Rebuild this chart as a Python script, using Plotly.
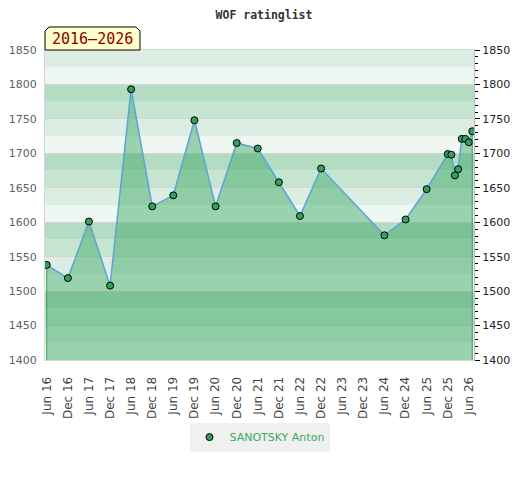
import pandas as pd
import plotly.graph_objects as go

# rating list dates and ratings
dates = ["2016-06-01", "2016-12-01", "2017-06-01", "2017-12-01", "2018-06-01",
         "2018-12-01", "2019-06-01", "2019-12-01", "2020-06-01", "2020-12-01",
         "2021-06-01", "2021-12-01", "2022-06-01", "2022-12-01", "2024-06-01",
         "2024-12-01", "2025-06-01", "2025-12-01", "2026-01-01", "2026-02-01",
         "2026-03-01", "2026-04-01", "2026-05-01", "2026-06-01", "2026-07-01"]
ratings = [1538, 1519, 1601, 1508, 1793, 1623, 1639, 1748, 1623, 1715,
           1707, 1658, 1609, 1678, 1581, 1604, 1648, 1699, 1698, 1668,
           1677, 1721, 1721, 1716, 1732]
player = "SANOTSKY Anton"
period = "2016\u20132026"
y_min, y_max = 1400, 1850

x = pd.to_datetime(dates)
pad = pd.Timedelta(days=15)

band_colors = {25: "#dceee3", 0: "#eef7f1", 75: "#b3dcc2", 50: "#c6e5d1"}

fig = go.Figure()

# area under the rating line
fig.add_trace(go.Scatter(
    x = x, y = ratings,
    mode = "lines",
    line = dict(color = "#5ba3d9", width = 1.5),
    fill = "tozeroy",
    fillcolor = "rgba(60,168,99,0.47)",
    showlegend = False,
    hoverinfo = "skip"
))

# edges of the area
fig.add_trace(go.Scatter(
    x = [x[0], x[0], None, x[-1], x[-1]],
    y = [ratings[0], y_min, None, ratings[-1], y_min],
    mode = "lines",
    line = dict(color = "#3d9b5d", width = 1),
    showlegend = False,
    hoverinfo = "skip"
))

fig.add_trace(go.Scatter(
    x = x, y = ratings,
    mode = "markers",
    name = player,
    marker = dict(color = "#35a05e", size = 7, line = dict(color = "black", width = 1))
))

# dummy trace for the right axis
fig.add_trace(go.Scatter(
    x = [x[0]], y = [ratings[0]], yaxis = "y2",
    mode = "markers", marker = dict(opacity = 0),
    showlegend = False, hoverinfo = "skip"
))

shapes = []
for lo in range(y_min, y_max, 25):
    shapes.append(dict(
        type = "rect", xref = "paper", yref = "y",
        x0 = 0, x1 = 1, y0 = lo, y1 = lo + 25,
        fillcolor = band_colors[lo % 100], line = dict(width = 0),
        layer = "below"
    ))

# label box with cut top corners
shapes.append(dict(
    type = "path", xref = "paper", yref = "paper",
    path = "M 0,1 L 0,1.0613 L 0.0093,1.0742 L 0.2121,1.0742 L 0.2214,1.0613 L 0.2214,1 Z",
    fillcolor = "#ffffcc", line = dict(color = "black", width = 1),
    layer = "above"
))

# page body adds an 8px offset, so the figure is 8px smaller
layout = go.Layout(
    width = 512, height = 472,
    margin = dict(l = 37, r = 46, t = 42, b = 120),
    paper_bgcolor = "white",
    plot_bgcolor = "white",
    title = dict(
        text = "<b>WOF ratinglist</b>",
        x = 0.5, xanchor = "center", y = 1 - 3 / 472, yanchor = "top",
        font = dict(family = "DejaVu Sans Mono", size = 11.5, color = "#333333")
    ),
    xaxis = dict(
        type = "date", automargin = False,
        range = [x[0] - pad, x[-1] + pad],
        tick0 = "2016-06-01", dtick = "M6", tickformat = "%b %y",
        tickangle = -90,
        ticks = "outside", ticklen = 11, tickcolor = "rgba(0,0,0,0)",
        tickfont = dict(family = "DejaVu Sans", size = 12, color = "#444444"),
        showgrid = False, zeroline = False,
        showline = True, linecolor = "#d6d6d6", linewidth = 1, mirror = True
    ),
    yaxis = dict(
        range = [y_min, y_max], dtick = 50, automargin = False,
        ticks = "outside", ticklen = 5, tickcolor = "rgba(0,0,0,0)",
        tickfont = dict(family = "DejaVu Sans", size = 11, color = "#606060"),
        showgrid = True, gridcolor = "#d4d4d4", gridwidth = 1,
        zeroline = False,
        showline = True, linecolor = "#d6d6d6", linewidth = 1
    ),
    yaxis2 = dict(
        overlaying = "y", side = "right", automargin = False,
        range = [y_min, y_max], dtick = 50,
        ticks = "outside", ticklen = 5, tickcolor = "black",
        minor = dict(dtick = 10, ticks = "outside", ticklen = 3, tickcolor = "black"),
        tickfont = dict(family = "DejaVu Sans", size = 11, color = "#222222"),
        showgrid = False, zeroline = False,
        showline = True, linecolor = "#bbbbbb", linewidth = 1
    ),
    legend = dict(
        orientation = "h",
        x = 0.5, xanchor = "center", y = -0.202, yanchor = "top",
        bgcolor = "#f0f0f0",
        font = dict(family = "DejaVu Sans", size = 11, color = "#3aaa5f"),
        itemwidth = 30
    ),
    shapes = shapes,
    annotations = [dict(
        text = period, xref = "paper", yref = "paper",
        x = 0.1107, y = 1.0355, xanchor = "center", yanchor = "middle",
        showarrow = False,
        font = dict(family = "DejaVu Sans Mono", size = 15, color = "#8b0000")
    )]
)

fig = go.Figure(data = fig.data, layout = layout)
fig.write_html("out.html")
